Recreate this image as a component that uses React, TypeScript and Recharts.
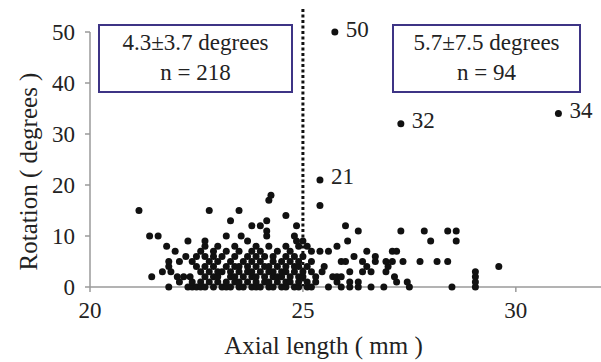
import React from 'react';
import { ScatterChart, Scatter, XAxis, YAxis, ReferenceLine, Label } from 'recharts';

// axial length (mm) of each eye, grouped by measured rotation (degrees)
const ROT_0 = [21.85, 22.3, 22.4, 22.5, 22.6, 22.7, 22.9, 23.1, 23.2, 23.3, 23.5, 23.6, 23.8, 23.9, 24.0, 24.2, 24.3, 24.5, 24.6, 24.8, 24.9, 25.1, 25.2, 25.6, 25.9, 26.1, 26.3, 26.6, 26.9, 27.5, 28.5, 29.05];
const ROT_1 = [22.1, 22.4, 22.6, 22.8, 23.0, 23.2, 23.4, 23.5, 23.7, 23.9, 24.1, 24.2, 24.4, 24.6, 24.7, 24.9, 25.1, 25.3, 25.8, 26.1, 26.3, 27.2, 27.45, 29.05];
const ROT_2 = [21.45, 22.05, 22.2, 22.35, 22.7, 22.9, 23.0, 23.3, 23.4, 23.6, 23.8, 23.9, 24.1, 24.3, 24.4, 24.5, 24.7, 24.9, 25.0, 25.3, 25.7, 25.8, 25.9, 27.15, 29.05];
const ROT_3 = [21.7, 21.9, 22.6, 22.8, 23.0, 23.1, 23.3, 23.5, 23.7, 23.8, 24.0, 24.2, 24.3, 24.5, 24.6, 24.8, 25.0, 25.2, 25.45, 26.1, 26.4, 26.6, 26.95, 29.05];
const ROT_4 = [21.85, 22.5, 22.7, 22.9, 23.2, 23.4, 23.5, 23.7, 23.9, 24.1, 24.2, 24.4, 24.6, 24.8, 24.9, 25.1, 25.5, 26.5, 27.0, 29.6];
const ROT_5 = [21.85, 22.1, 22.4, 22.8, 23.0, 23.3, 23.6, 23.8, 24.0, 24.3, 24.5, 24.7, 24.9, 25.2, 25.9, 26.0, 26.4, 26.7, 26.95, 27.1, 27.35, 27.75, 28.15, 28.4];
const ROT_6 = [22.25, 22.5, 22.7, 22.9, 23.1, 23.4, 23.7, 23.9, 24.1, 24.3, 24.6, 24.8, 25.0, 26.2, 26.7];
const ROT_7 = [22.0, 22.6, 22.9, 23.2, 23.5, 23.8, 24.0, 24.4, 24.7, 25.2, 25.4, 25.6, 26.5, 27.1, 27.2];
const ROT_8 = [21.8, 22.7, 23.0, 23.4, 23.9, 24.2, 24.6, 24.9, 25.1, 25.8];
const ROT_9 = [22.3, 22.7, 23.7, 24.85, 25.0, 26.05, 28.0, 28.6];
const ROT_10 = [21.4, 21.6, 23.2, 23.55, 24.15, 24.8];
const ROT_11 = [24.15, 26.3, 27.3, 27.85, 28.4, 28.6];
const ROT_12 = [23.8, 24.0, 24.85, 26.0];
const ROT_13 = [23.3, 24.15];
const ROT_14 = [24.6];
const ROT_15 = [21.15, 22.8, 23.5];
const ROT_16 = [25.4];
const ROT_17 = [24.2];
const ROT_18 = [24.25];

const ROWS = [ROT_0, ROT_1, ROT_2, ROT_3, ROT_4, ROT_5, ROT_6, ROT_7, ROT_8, ROT_9,
  ROT_10, ROT_11, ROT_12, ROT_13, ROT_14, ROT_15, ROT_16, ROT_17, ROT_18];

// large rotations, labelled on the plot
const OUTLIERS = [
  { x: 25.4, y: 21, label: '21' },
  { x: 27.3, y: 32, label: '32' },
  { x: 31.0, y: 34, label: '34' },
  { x: 25.75, y: 50, label: '50' },
];

const X_TICKS = [20, 25, 30];
const Y_TICKS = [0, 10, 20, 30, 40, 50];
const CUTOFF = 25;

const GROUPS = [
  { stat: '4.3\u00b13.7 degrees', n: 'n = 218' },
  { stat: '5.7\u00b17.5 degrees', n: 'n = 94' },
];

const points = ROWS.flatMap((xs, rot) => xs.map((x) => ({ x, y: rot })));

const FONT = '"Liberation Serif", "Times New Roman", serif';
const AXIS = '#9a9a9a';

const Dot = (props: any) => <circle cx={props.cx} cy={props.cy} r={3.5} fill="#111" />;

const LabelledDot = (props: any) => (
  <g>
    <circle cx={props.cx} cy={props.cy} r={3.5} fill="#111" />
    <text x={props.cx + 11} y={props.cy - 3} dominantBaseline="central" fontSize={23} fontFamily={FONT} fill="#222">
      {props.payload.label}
    </text>
  </g>
);

const boxStyle = (left: number, width: number): React.CSSProperties => ({
  position: 'absolute', left, top: 24, width, height: 69, boxSizing: 'border-box',
  border: '2px solid #3d3485', background: '#fff', paddingTop: 2,
  fontFamily: FONT, fontSize: 23, lineHeight: '30px', color: '#222', textAlign: 'center',
});

export default function App() {
  return (
    <div style={{ position: 'absolute', left: 0, top: 0, width: 601, height: 362, background: '#fff' }}>
      <ScatterChart width={601} height={362} margin={{ top: 32, right: 0, bottom: 0, left: 0 }}>
        <XAxis
          type="number" dataKey="x" domain={[20, 32]} ticks={X_TICKS} height={75}
          stroke={AXIS} strokeWidth={1.5} tickSize={5} tickMargin={10}
          tick={{ fill: '#222', fontSize: 23, fontFamily: FONT }}
        >
          <Label
            content={(p: any) => (
              <text x={p.viewBox.x + p.viewBox.width / 2 - 22} y={p.viewBox.y + 58} textAnchor="middle"
                dominantBaseline="central" fontSize={25} fontFamily={FONT} fill="#222">
                Axial length ( mm )
              </text>
            )}
          />
        </XAxis>
        <YAxis
          type="number" dataKey="y" domain={[0, 50]} ticks={Y_TICKS} width={90}
          stroke={AXIS} strokeWidth={1.5} tickSize={5} tickMargin={10}
          tick={{ fill: '#222', fontSize: 23, fontFamily: FONT }}
        >
          <Label
            content={(p: any) => {
              const cx = p.viewBox.x + 28;
              const cy = p.viewBox.y + p.viewBox.height / 2 + 12;
              return (
                <text x={cx} y={cy} transform={`rotate(-90, ${cx}, ${cy})`} textAnchor="middle"
                  dominantBaseline="central" fontSize={25} fontFamily={FONT} fill="#222">
                  Rotation ( degrees )
                </text>
              );
            }}
          />
        </YAxis>
        <ReferenceLine
          segment={[{ x: CUTOFF, y: 0 }, { x: CUTOFF, y: 54.5 }]}
          stroke="#111" strokeWidth={3} strokeDasharray="3 2.5" ifOverflow="visible"
        />
        <Scatter data={points} shape={Dot} isAnimationActive={false} />
        <Scatter data={OUTLIERS} shape={LabelledDot} isAnimationActive={false} />
      </ScatterChart>
      <div style={boxStyle(98, 195)}>
        <div>{GROUPS[0].stat}</div>
        <div>{GROUPS[0].n}</div>
      </div>
      <div style={boxStyle(392, 189)}>
        <div>{GROUPS[1].stat}</div>
        <div>{GROUPS[1].n}</div>
      </div>
    </div>
  );
}
